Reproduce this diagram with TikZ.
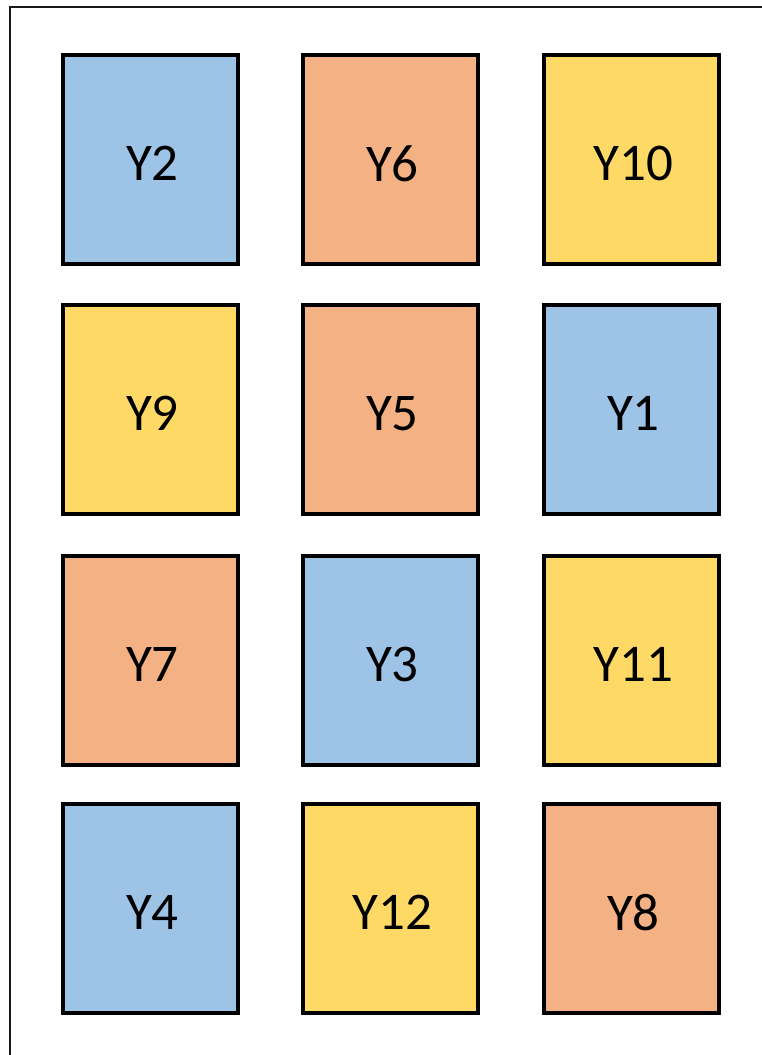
\documentclass[tikz,border=0pt]{standalone}
\usepackage{fontspec}
\setmainfont{Carlito}
\definecolor{cblue}{HTML}{9DC3E6}
\definecolor{corange}{HTML}{F4B183}
\definecolor{cyellow}{HTML}{FFD966}
\tikzset{
  cell/.style={draw=black, line width=3.5pt, minimum width=175pt, minimum height=209pt, inner sep=0pt, outer sep=0pt, anchor=north west,
    label={[font=\fontsize{53}{60}\selectfont, xshift=2pt, yshift=-4pt]center:#1}},
  bl/.style={cell=#1, fill=cblue},
  or/.style={cell=#1, fill=corange},
  ye/.style={cell=#1, fill=cyellow}
}
\begin{document}
\begin{tikzpicture}[x=1pt,y=-1pt]
\useasboundingbox (0,0) rectangle (761,1055);
\draw[line width=2pt, black!90] (10,1060) -- (10,7) -- (770,7);
\node[bl=Y2] (y2) at (63,55) {};
\node[or=Y6] (y6) at (303,55) {};
\node[ye=Y10] (y10) at (544,55) {};
\node[ye=Y9] (y9) at (63,305) {};
\node[or=Y5] (y5) at (303,305) {};
\node[bl=Y1] (y1) at (544,305) {};
\node[or=Y7] (y7) at (63,556) {};
\node[bl=Y3] (y3) at (303,556) {};
\node[ye=Y11] (y11) at (544,556) {};
\node[bl=Y4] (y4) at (63,804) {};
\node[ye=Y12] (y12) at (303,804) {};
\node[or=Y8] (y8) at (544,804) {};
\end{tikzpicture}
\end{document}
